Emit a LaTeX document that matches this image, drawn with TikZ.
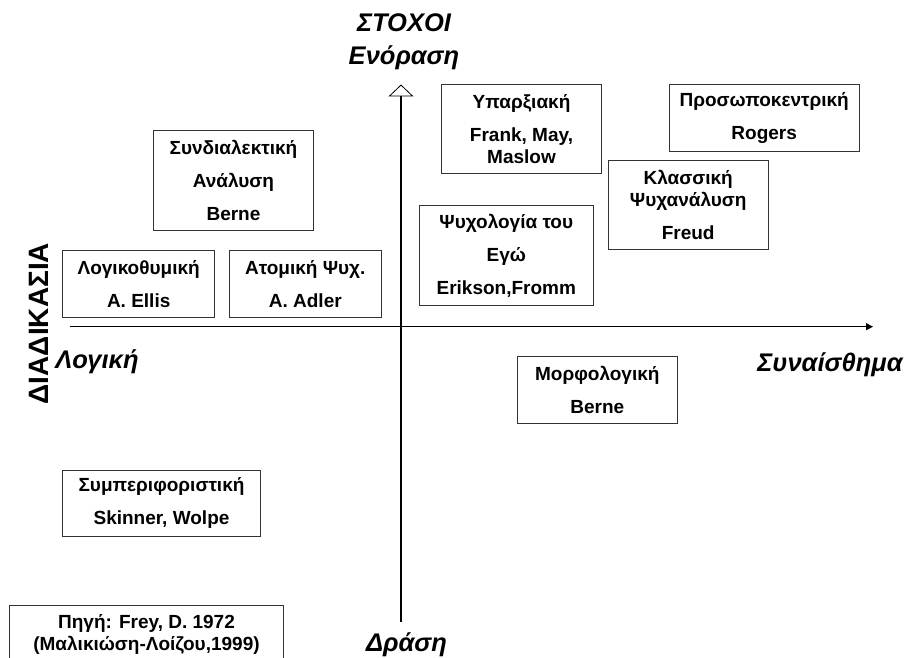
\documentclass[tikz,border=0pt]{standalone}
\usepackage{fontspec}
\setmainfont{Liberation Sans}
\usetikzlibrary{arrows.meta,positioning}

\begin{document}
\begin{tikzpicture}[x=1pt,y=-1pt,% pixel like units, y going down
        box/.style={draw=black!80, line width=0.8pt, inner sep=0pt, align=center,
                font=\fontsize{19}{33}\selectfont\bfseries},
        axislabel/.style={inner sep=0pt, font=\fontsize{25.5}{28}\selectfont\bfseries\itshape},
        axis/.style={line width=1.1pt}]
\clip (0,0) rectangle (908,658); % page frame, the source box is cut at the bottom

% the axes
\coordinate (xleft) at (70,326.7);
\coordinate (xright) at (873,326.7);
\coordinate (ybottom) at (401,621.7);
\coordinate (ytop) at (401,84.5);
\draw[axis, -{Triangle[length=7pt,width=7pt]}] (xleft) -- (xright);
\draw[axis, -{Triangle[open,length=12pt,width=25pt,line width=0.8pt]}] (ybottom) -- (ytop);

% axis labels
\node[axislabel] (goals) at (404,23) {ΣΤΟΧΟΙ};
\node[axislabel] (insight) at (404,58) {Ενόραση};
\node[axislabel] (logic) at (97,362) {Λογική};
\node[axislabel] (emotion) at (830,365) {Συναίσθημα};
\node[axislabel] (action) at (406.5,645) {Δράση};
\node[axislabel, font=\fontsize{28}{30}\selectfont\bfseries, rotate=90] (process) at (39,323.5) {ΔΙΑΔΙΚΑΣΙΑ};

% the approaches
\node[box, minimum width=159.6pt, minimum height=100pt] (dialectic) at (233.5,180) {Συνδιαλεκτική\\Ανάλυση\\Berne};
\node[box, minimum width=152pt, minimum height=66.6pt] (rational) at (138.7,284) {Λογικοθυμική\\A. Ellis};
\node[box, minimum width=152pt, minimum height=66.6pt] (adler) at (305.3,284) {Ατομική Ψυχ.\\A. Adler};
\node[box, minimum width=159.6pt, minimum height=89pt] (existential) at (521.5,128.8) {Υπαρξιακή\\Frank, May,\\[-11pt]Maslow};
\node[box, minimum width=189.7pt, minimum height=66.7pt] (personcentred) at (764.2,117.7) {Προσωποκεντρική\\Rogers};
\node[box, minimum width=159.7pt, minimum height=88.7pt] (classic) at (688.2,204.7) {Κλασσική\\[-11pt]Ψυχανάλυση\\Freud};
\node[box, minimum width=174.7pt, minimum height=99.6pt] (ego) at (506.3,255.5) {Ψυχολογία του\\Εγώ\\Erikson,Fromm};
\node[box, minimum width=160pt, minimum height=66.6pt] (gestalt) at (597.3,390) {Μορφολογική\\Berne};
\node[box, minimum width=197.6pt, minimum height=66.7pt] (behaviour) at (161.5,503.3) {Συμπεριφοριστική\\Skinner, Wolpe};

% source note
\node[box, minimum width=273.6pt, minimum height=56.6pt] (source) at (146.5,634) {Πηγή: Frey, D. 1972\\[-11pt](Μαλικιώση-Λοίζου,1999)};

\end{tikzpicture}
\end{document}
